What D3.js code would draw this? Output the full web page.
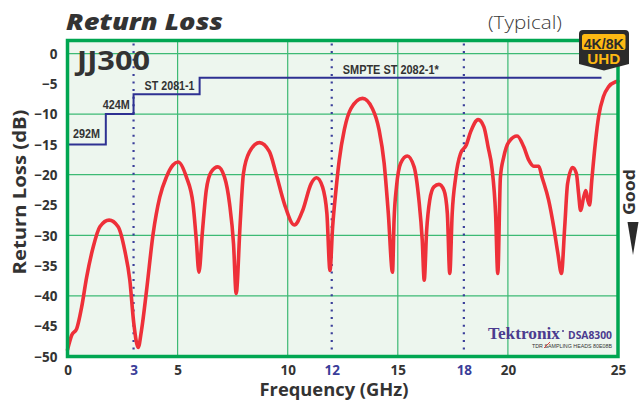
<!DOCTYPE html>
<html><head><meta charset="utf-8">
<script src="https://cdn.jsdelivr.net/npm/d3@7"></script>
<style>
html,body{margin:0;padding:0;background:#fff;}
svg{display:block;}
</style></head>
<body>
<svg id="chart" width="639" height="402"></svg>
<script>
// ---- data ----
const freqGHz = [0,0.19,0.42,0.64,0.87,1.17,1.47,1.89,2.30,2.60,2.83,3.01,3.21,3.36,3.59,3.89,4.19,4.49,4.79,
  5.02,5.40,5.70,5.85,5.97,6.12,6.30,6.53,6.83,7.13,7.36,7.54,7.66,7.84,7.99,8.27,8.72,9.17,9.47,9.85,
  10.30,10.68,11.06,11.31,11.58,11.78,11.92,12.04,12.19,12.34,12.57,12.87,13.40,13.85,14.15,14.38,14.57,14.76,
  14.83,14.94,15.13,15.43,15.74,15.96,16.11,16.20,16.31,16.45,16.64,16.87,17.10,17.25,17.36,17.47,17.63,17.85,
  18.11,18.31,18.65,18.91,19.10,19.28,19.44,19.54,19.66,19.81,20.04,20.42,20.72,20.95,21.17,21.40,21.55,21.85,
  22.08,22.27,22.43,22.58,22.71,22.94,23.11,23.21,23.30,23.44,23.54,23.63,23.71,23.81,23.97,24.12,24.34,24.57,24.87,25.0];
const returnLossDb = [-48.9,-46.5,-45.4,-41.9,-36.9,-31.9,-28.6,-27.5,-28.6,-32.5,-37.4,-44.5,-48.5,-45.7,-39.1,-29.7,-23.7,-20.4,-18.4,
  -17.9,-20.4,-24.8,-30.8,-36.1,-29.7,-22.6,-19.5,-18.7,-20.4,-24.8,-31.4,-39.6,-28.1,-19.8,-16.2,-14.7,-16.2,-19.8,-24.8,
  -28.3,-25.9,-21.5,-20.5,-22.0,-26.4,-35.8,-28.6,-22.6,-17.6,-12.6,-9.1,-7.4,-9.1,-12.6,-18.1,-26.4,-36.1,
  -27.5,-22.0,-18.1,-16.9,-18.7,-24.2,-30.8,-37.4,-29.2,-24.2,-22.0,-21.6,-22.6,-26.4,-36.3,-26.4,-20.4,-16.5,
  -15.1,-12.9,-10.9,-12.1,-15.4,-19.0,-26.4,-36.3,-20.4,-17.1,-14.6,-13.6,-15.4,-17.6,-18.6,-18.6,-20.4,-24.2,
  -28.6,-33.0,-36.3,-28.6,-21.5,-18.8,-19.8,-23.1,-25.9,-23.7,-22.6,-24.2,-25.0,-20.9,-14.8,-10.4,-7.1,-5.5,-4.7,-4.6];

// SMPTE limit mask (step after)
const maskFreq = [0, 1.74, 3, 6, 24.25];
const maskDb   = [-15, -10, -6.7, -4, -4];
const maskLabels = ["292M", "424M", "ST 2081-1", "SMPTE ST 2082-1*"];
const maskLabelPos = [[0.25,-14.0],[1.6,-9.1],[3.5,-6.1],[12.5,-3.4]];
const maskLabelWidth = [27, 27, 50, 96];

const xTicks = [0, 3, 5, 10, 12, 15, 18, 20, 25];
const xHighlight = [3, 12, 18];
const xGrid = [5, 10, 15, 20];
const yTicks = [0,-5,-10,-15,-20,-25,-30,-35,-40,-45,-50];
const yGrid = [0,-10,-20,-30,-40];

// ---- layout ----
const svg = d3.select("#chart");
const L = 67.5, R = 618, T = 40.5, B = 356.5;
const x = d3.scaleLinear().domain([0,25]).range([L,R]);
const y = d3.scaleLinear().domain([-50,2.15]).range([B,T]);

const green = "#00a651", grid = "#3dba74", blue = "#2e3192", red = "#ee3039", dark = "#333333";
const sans = "'Open Sans', 'DejaVu Sans', sans-serif";

// plot background
svg.append("rect").attr("x",L).attr("y",T).attr("width",R-L).attr("height",B-T).attr("fill","#edf6ee");

// grid
svg.append("g").selectAll("line").data(xGrid).join("line")
  .attr("x1",d=>x(d)).attr("x2",d=>x(d)).attr("y1",T).attr("y2",B)
  .attr("stroke",grid).attr("stroke-width",1.2);
svg.append("g").selectAll("line").data(yGrid).join("line")
  .attr("x1",L).attr("x2",R).attr("y1",d=>y(d)).attr("y2",d=>y(d))
  .attr("stroke",grid).attr("stroke-width",1.2);

// dotted frequency markers
svg.append("g").selectAll("line").data(xHighlight).join("line")
  .attr("x1",d=>x(d)).attr("x2",d=>x(d)).attr("y1",T+3).attr("y2",B)
  .attr("stroke","#3b3f9a").attr("stroke-width",2.2).attr("stroke-dasharray","2,5.6");

// mask line
const maskData = maskFreq.map((f,i)=>[f,maskDb[i]]);
svg.append("path").datum(maskData)
  .attr("d", d3.line().x(d=>x(d[0])).y(d=>y(d[1])).curve(d3.curveStepAfter))
  .attr("fill","none").attr("stroke",blue).attr("stroke-width",2);

svg.append("g").selectAll("text").data(maskLabels).join("text")
  .attr("x",(d,i)=>x(maskLabelPos[i][0])).attr("y",(d,i)=>y(maskLabelPos[i][1]))
  .attr("font-family","'Liberation Sans Narrow','Arial Narrow','Liberation Sans',sans-serif")
  .attr("font-weight","bold").attr("font-size",13).attr("fill",dark)
  .attr("textLength",(d,i)=>maskLabelWidth[i]).attr("lengthAdjust","spacingAndGlyphs")
  .text(d=>d);

// return loss curve
const rlData = freqGHz.map((f,i)=>[f,returnLossDb[i]]);
svg.append("path").datum(rlData)
  .attr("d", d3.line().x(d=>x(d[0])).y(d=>y(d[1])).curve(d3.curveMonotoneX))
  .attr("fill","none").attr("stroke",red).attr("stroke-width",3.6)
  .attr("stroke-linejoin","round").attr("stroke-linecap","round");

// border
svg.append("rect").attr("x",L).attr("y",T).attr("width",R-L).attr("height",B-T)
  .attr("fill","none").attr("stroke",green).attr("stroke-width",3.5);

// axes
const xAxis = d3.axisBottom(x).tickValues(xTicks).tickSize(0).tickPadding(0).tickFormat(d3.format("d"));
const gx = svg.append("g").attr("transform",`translate(0,${B})`).call(xAxis);
gx.select(".domain").remove();
gx.selectAll("text").attr("y",18.5).attr("dy",0)
  .attr("font-family",sans).attr("font-weight","bold").attr("font-size",13.5)
  .attr("fill",d=>xHighlight.includes(d)?"#3a3d99":dark);

const yAxis = d3.axisLeft(y).tickValues(yTicks).tickSize(0).tickPadding(0).tickFormat(d3.format("d"));
const gy = svg.append("g").attr("transform",`translate(${L-10},0)`).call(yAxis);
gy.select(".domain").remove();
gy.selectAll("text").attr("dy","0.35em")
  .attr("font-family",sans).attr("font-weight","bold").attr("font-size",13.5).attr("fill",dark);

// axis titles
svg.append("text").attr("x",334).attr("y",396).attr("text-anchor","middle")
  .attr("font-family",sans).attr("font-weight","bold").attr("font-size",17).attr("fill",dark)
  .attr("textLength",149).attr("lengthAdjust","spacingAndGlyphs")
  .text("Frequency (GHz)");
svg.append("text").attr("transform",`translate(26,192) rotate(-90)`).attr("text-anchor","middle")
  .attr("font-family",sans).attr("font-weight","bold").attr("font-size",17).attr("fill",dark)
  .attr("textLength",165).attr("lengthAdjust","spacingAndGlyphs")
  .text("Return Loss (dB)");

// titles
svg.append("text").attr("x",66).attr("y",30)
  .attr("font-family",sans).attr("font-weight","800").attr("font-style","italic").attr("font-size",22.5).attr("fill",dark)
  .attr("textLength",157).attr("lengthAdjust","spacingAndGlyphs")
  .text("Return Loss");
svg.append("text").attr("x",488).attr("y",29)
  .attr("font-family",sans).attr("font-weight","300").attr("font-size",17.5).attr("fill","#3a3a3a")
  .attr("textLength",74).attr("lengthAdjust","spacingAndGlyphs")
  .text("(Typical)");
svg.append("text").attr("x",77).attr("y",70)
  .attr("font-family",sans).attr("font-weight","700").attr("font-size",26).attr("fill",dark)
  .attr("textLength",73).attr("lengthAdjust","spacingAndGlyphs")
  .text("JJ300");

// Good arrow
svg.append("text").attr("transform","translate(635,215) rotate(-90)")
  .attr("font-family",sans).attr("font-weight","bold").attr("font-size",15.5).attr("fill",dark)
  .attr("textLength",46).attr("lengthAdjust","spacingAndGlyphs")
  .text("Good");
svg.append("path").attr("d","M627.5,222 L638.5,222 L633,255 Z").attr("fill","#2a2a2a");

// 4K/8K UHD badge
svg.append("path").attr("d","M583,30 L625,30 Q629,30 629,34 L629,64 L604,70.5 L579,64 L579,34 Q579,30 583,30 Z")
  .attr("fill","#2b2b2b");
svg.append("rect").attr("x",582).attr("y",34).attr("width",43.5).attr("height",16).attr("rx",2.5).attr("fill","#fdb913");
svg.append("text").attr("x",603.7).attr("y",48.5).attr("text-anchor","middle")
  .attr("font-family","'Liberation Sans',sans-serif").attr("font-weight","bold").attr("font-size",15)
  .attr("textLength",40).attr("lengthAdjust","spacingAndGlyphs").attr("fill","#2b2b2b").text("4K/8K");
svg.append("text").attr("x",603.7).attr("y",64).attr("text-anchor","middle")
  .attr("font-family","'Liberation Sans',sans-serif").attr("font-weight","bold").attr("font-size",15)
  .attr("textLength",33).attr("lengthAdjust","spacingAndGlyphs").attr("fill","#fdb913").text("UHD");

// Tektronix logo
const purple = "#4b3b8f";
svg.append("text").attr("x",488).attr("y",339)
  .attr("font-family","'Liberation Serif','DejaVu Serif',serif").attr("font-weight","bold").attr("font-size",17)
  .attr("textLength",72).attr("lengthAdjust","spacingAndGlyphs")
  .attr("fill",purple).text("Tektronix");
svg.append("circle").attr("cx",563).attr("cy",331).attr("r",1).attr("fill",purple);
svg.append("text").attr("x",612).attr("y",339).attr("text-anchor","end")
  .attr("font-family",sans).attr("font-weight","bold").attr("font-size",10.5).attr("fill",purple)
  .attr("textLength",44).attr("lengthAdjust","spacingAndGlyphs").text("DSA8300");
svg.append("text").attr("x",612).attr("y",347.5).attr("text-anchor","end")
  .attr("font-family","'Liberation Sans Narrow','Liberation Sans',sans-serif").attr("font-size",5.5).attr("fill","#333")
  .attr("textLength",80).attr("lengthAdjust","spacingAndGlyphs")
  .text("TDR    SAMPLING HEADS 80E08B");
svg.append("line").attr("x1",544).attr("y1",348).attr("x2",550).attr("y2",342).attr("stroke","#e03030").attr("stroke-width",0.9);
</script>
</body></html>
